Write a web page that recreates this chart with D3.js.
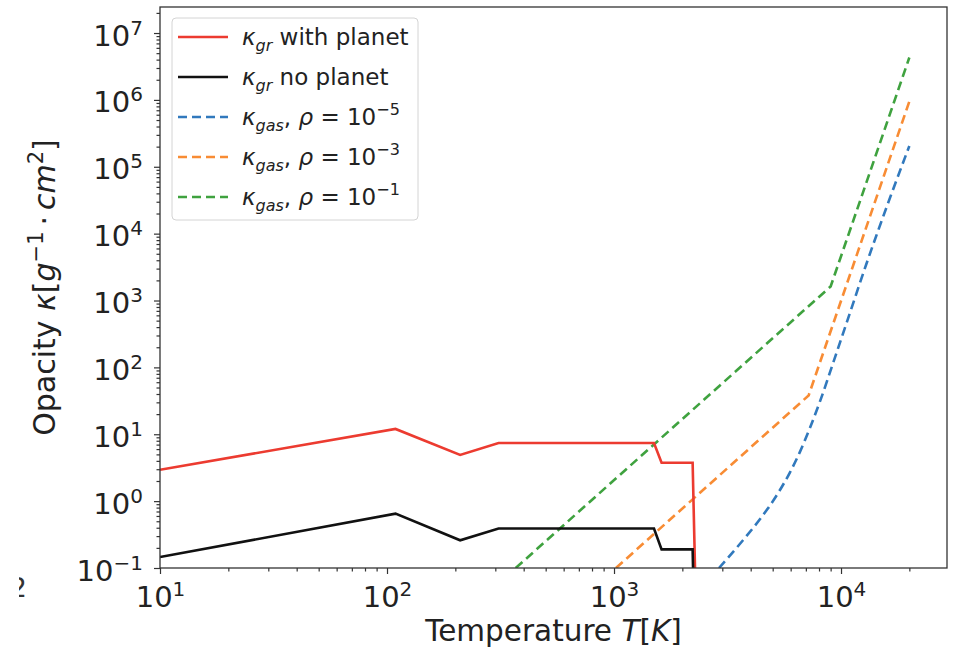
<!DOCTYPE html>
<html>
<head>
<meta charset="utf-8">
<script src="https://cdn.jsdelivr.net/npm/d3@7"></script>
<style>
  body { margin: 0; background: #fff; }
  svg { font-family: "DejaVu Sans", sans-serif; }
</style>
</head>
<body>
<div id="chart"></div>
<script>

// Data
//----------------------------
var redT = [10, 109, 210, 310, 1500, 1620, 2220, 2380];
var redK = [2.95, 12.0, 4.9, 7.4, 7.4, 3.75, 3.75, 0.0001];

var blackT = [10, 109, 210, 310, 1500, 1620, 2220, 2380];
var blackK = [0.146, 0.65, 0.26, 0.39, 0.39, 0.19, 0.19, 0.000005];

var blueT = [2900, 3700, 4400, 5230, 5960, 6600, 7300, 8080, 9220, 10620, 13000, 15950, 20000];
var blueK = [0.1, 0.26, 0.54, 1.25, 2.7, 5.5, 12.5, 31, 115, 480, 3700, 26000, 205000];

var orangeT = [1020, 7200, 20000];
var orangeK = [0.1, 38, 950000];

var greenT = [369, 9000, 20000];
var greenK = [0.1, 1620, 4300000];

var xMajor = [10, 100, 1000, 10000];
var yMajor = [0.1, 1, 10, 100, 1000, 10000, 100000, 1000000, 10000000];

var seriesNames = ["with planet", "no planet", "-5", "-3", "-1"];

// Sizing parameters
//------------------
var svgWidth = 959;
var svgHeight = 652;

var margin = {
  top: 7,
  right: 12,
  bottom: 84,
  left: 160
};

var width = svgWidth - margin.left - margin.right;
var height = svgHeight - margin.top - margin.bottom;

var svg = d3.select("#chart")
  .append("svg")
  .attr("width", svgWidth)
  .attr("height", svgHeight);

var chartGroup = svg.append("g")
  .attr("transform", `translate(${margin.left}, ${margin.top})`);

// Scales
//-------
var xLogScale = d3.scaleLog()
  .domain([10, 29300])
  .range([0, width]);

var yLogScale = d3.scaleLog()
  .domain([0.1, 2.45e7])
  .range([height, 0]);

// minor ticks 2..9 of every decade inside the domain
function minorTicks(scale) {
  var dom = scale.domain();
  var out = [];
  for (var e = Math.floor(Math.log10(dom[0])); e <= Math.ceil(Math.log10(dom[1])); e++) {
    for (var m = 2; m < 10; m++) {
      var v = m * Math.pow(10, e);
      if (v > dom[0] && v < dom[1]) out.push(v);
    }
  }
  return out;
}

var supDigits = function(d) {
  var e = Math.round(Math.log10(d));
  return (e < 0 ? "\u2212" : "") + Math.abs(e);
};

// x axis
var xMinorAxis = chartGroup.append("g")
  .attr("transform", `translate(0, ${height})`)
  .call(d3.axisBottom(xLogScale).tickValues(minorTicks(xLogScale)).tickSize(3.5).tickFormat(""));

var xAxis = chartGroup.append("g")
  .attr("transform", `translate(0, ${height})`)
  .call(d3.axisBottom(xLogScale).tickValues(xMajor).tickSize(6).tickFormat(""));

// y axis
var yMinorAxis = chartGroup.append("g")
  .call(d3.axisLeft(yLogScale).tickValues(minorTicks(yLogScale)).tickSize(3.5).tickFormat(""));

var yAxis = chartGroup.append("g")
  .call(d3.axisLeft(yLogScale).tickValues(yMajor).tickSize(6).tickFormat(""));

chartGroup.selectAll(".domain").remove();
chartGroup.selectAll(".tick line")
  .attr("stroke", "#333")
  .attr("stroke-width", 1.2);

// tick labels as 10 with a raised exponent
xAxis.selectAll(".tick text")
  .attr("y", 39)
  .attr("dy", 0)
  .attr("font-size", 29)
  .attr("font-family", "DejaVu Sans")
  .attr("fill", "#222")
  .attr("text-anchor", "middle")
  .each(function(d) {
    var t = d3.select(this);
    t.append("tspan").text("10");
    t.append("tspan").attr("dy", -11).attr("font-size", 20).text(supDigits(d));
  });

yAxis.selectAll(".tick text")
  .attr("x", -17)
  .attr("y", 0)
  .attr("dy", 12)
  .attr("font-size", 29)
  .attr("font-family", "DejaVu Sans")
  .attr("fill", "#222")
  .attr("text-anchor", "end")
  .each(function(d) {
    var t = d3.select(this);
    t.append("tspan").text("10");
    t.append("tspan").attr("dy", -11).attr("font-size", 20).text(supDigits(d));
  });

// Lines
//------
chartGroup.append("clipPath")
  .attr("id", "plotClip")
  .append("rect")
  .attr("width", width)
  .attr("height", height);

var line = d3.line()
  .x(d => xLogScale(d[0]))
  .y(d => yLogScale(d[1]));

var smoothLine = d3.line()
  .x(d => xLogScale(d[0]))
  .y(d => yLogScale(d[1]))
  .curve(d3.curveMonotoneX);

function pairs(ts, ks) {
  return ts.map((t, i) => [t, ks[i]]);
}

var series = [
  {data: pairs(redT, redK), color: "#ec3b30", dash: null, gen: line},
  {data: pairs(blackT, blackK), color: "#111111", dash: null, gen: line},
  {data: pairs(blueT, blueK), color: "#3179bd", dash: "9,5", gen: smoothLine},
  {data: pairs(orangeT, orangeK), color: "#f88c34", dash: "9,5", gen: line},
  {data: pairs(greenT, greenK), color: "#3fa23f", dash: "9,5", gen: line}
];

var linesGroup = chartGroup.append("g")
  .attr("clip-path", "url(#plotClip)");

// dashed ones first so the solid lines sit on top where they cross
[2, 3, 4, 0, 1].forEach(function(i) {
  var s = series[i];
  linesGroup.append("path")
    .attr("d", s.gen(s.data))
    .attr("fill", "none")
    .attr("stroke", s.color)
    .attr("stroke-width", 2.6)
    .attr("stroke-dasharray", s.dash);
});

// frame
chartGroup.append("rect")
  .attr("width", width)
  .attr("height", height)
  .attr("fill", "none")
  .attr("stroke", "#333")
  .attr("stroke-width", 1.3);

// Axis labels
//------------
var xLabel = chartGroup.append("text")
  .attr("x", width / 2)
  .attr("y", height + 73)
  .attr("text-anchor", "middle")
  .attr("font-size", 29.5)
  .attr("fill", "#222");
xLabel.append("tspan").text("Temperature ");
xLabel.append("tspan").attr("font-style", "italic").text("T");
xLabel.append("tspan").text("[");
xLabel.append("tspan").attr("font-style", "italic").text("K");
xLabel.append("tspan").text("]");

var yLabel = svg.append("text")
  .attr("transform", `translate(55, ${margin.top + height / 2}) rotate(-90)`)
  .attr("text-anchor", "middle")
  .attr("font-size", 30)
  .attr("fill", "#222");
yLabel.append("tspan").text("Opacity ");
yLabel.append("tspan").attr("font-style", "italic").text("\u03ba");
yLabel.append("tspan").text("[");
yLabel.append("tspan").attr("font-style", "italic").text("g");
yLabel.append("tspan").attr("dy", -12).attr("font-size", 21).text("\u22121");
yLabel.append("tspan").attr("dy", 12).text("\u2009\u00b7\u2009");
yLabel.append("tspan").attr("font-style", "italic").text("cm");
yLabel.append("tspan").attr("dy", -12).attr("font-size", 21).text("2");
yLabel.append("tspan").attr("dy", 12).text("]");

// stray glyph at the lower left edge of the picture
svg.append("clipPath")
  .attr("id", "strayClip")
  .append("rect")
  .attr("x", 19)
  .attr("y", 570)
  .attr("width", 12)
  .attr("height", 35);

svg.append("text")
  .attr("x", 27)
  .attr("y", 597)
  .attr("text-anchor", "end")
  .attr("font-size", 27)
  .attr("fill", "#333")
  .attr("clip-path", "url(#strayClip)")
  .text("2");

// Legend
//-------
var legendGroup = chartGroup.append("g")
  .attr("transform", "translate(12, 11)");

legendGroup.append("rect")
  .attr("width", 246)
  .attr("height", 202)
  .attr("rx", 4)
  .attr("fill", "#fff")
  .attr("fill-opacity", 0.85)
  .attr("stroke", "#d4d4d4")
  .attr("stroke-width", 1);

series.forEach(function(s, i) {
  var row = legendGroup.append("g")
    .attr("transform", `translate(0, ${19 + i * 40})`);

  row.append("line")
    .attr("x1", 6)
    .attr("x2", 56)
    .attr("stroke", s.color)
    .attr("stroke-width", 2.6)
    .attr("stroke-dasharray", s.dash);

  var label = row.append("text")
    .attr("x", 70)
    .attr("y", 8)
    .attr("font-size", 23)
    .attr("fill", "#222");

  label.append("tspan").attr("font-style", "italic").text("\u03ba");
  if (i < 2) {
    label.append("tspan").attr("dy", 6).attr("font-size", 16).attr("font-style", "italic").text("gr");
    label.append("tspan").attr("dy", -6).text(" " + seriesNames[i]);
  } else {
    label.append("tspan").attr("dy", 6).attr("font-size", 16).attr("font-style", "italic").text("gas");
    label.append("tspan").attr("dy", -6).text(", ");
    label.append("tspan").attr("font-style", "italic").text("\u03c1");
    label.append("tspan").text(" = 10");
    label.append("tspan").attr("dy", -10).attr("font-size", 16).text(seriesNames[i].replace("-", "\u2212"));
  }
});

</script>
</body>
</html>
